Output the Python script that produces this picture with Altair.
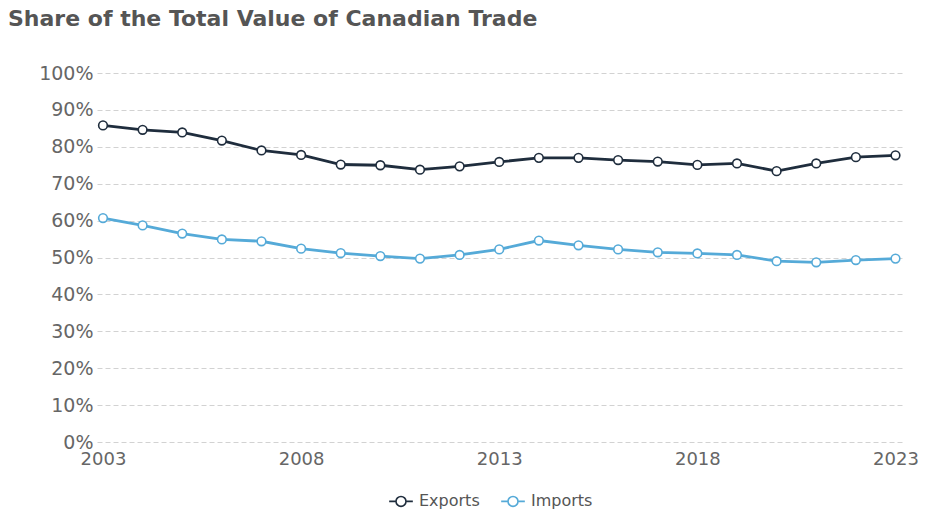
import altair as alt
import pandas as pd

years = list(range(2003, 2024))
exports = [85.8, 84.6, 83.9, 81.7, 79.0, 77.8, 75.2, 75.0, 73.8, 74.7,
           75.9, 77.0, 77.0, 76.4, 76.0, 75.1, 75.5, 73.4, 75.5, 77.2, 77.7]
imports = [60.7, 58.7, 56.5, 54.9, 54.4, 52.4, 51.2, 50.4, 49.7, 50.7,
           52.2, 54.6, 53.3, 52.2, 51.4, 51.1, 50.7, 49.0, 48.7, 49.3, 49.7]
series_names = ["Exports", "Imports"]
series_colors = ["#1f2d3d", "#55aad8"]
x_ticks = [2003, 2008, 2013, 2018, 2023]

rows = []
for i, y in enumerate(years):
    rows.append({"Year": y, "Series": "Exports", "Share": exports[i] / 100})
    rows.append({"Year": y, "Series": "Imports", "Share": imports[i] / 100})
df = pd.DataFrame(rows)

symbol_path = "M-1,0L-0.42,0M0.42,0L1,0M-0.42,0A0.42,0.42 0 1,1 0.42,0A0.42,0.42 0 1,1 -0.42,0"

color = alt.Color(
    "Series:N",
    scale=alt.Scale(domain=series_names, range=series_colors),
    legend=alt.Legend(
        orient="none", legendX=291, legendY=415, title=None, direction="horizontal",
        symbolType=symbol_path, symbolSize=560, symbolStrokeWidth=1.6,
        symbolFillColor="white",
        labelFontSize=16, labelColor="#555555", labelFont="DejaVu Sans",
        labelOffset=5, columnPadding=17, symbolOffset=0, padding=0,
    ),
)

x = alt.X(
    "Year:Q",
    scale=alt.Scale(domain=[2002.849, 2023.24], nice=False, zero=False),
    axis=alt.Axis(values=x_ticks, format="d", title=None, grid=False,
                  domain=False, ticks=False, labelFontSize=18,
                  labelColor="#666666", labelPadding=8, labelFont="DejaVu Sans",
                  labelOverlap=False, labelFlush=False),
)
y = alt.Y(
    "Share:Q",
    scale=alt.Scale(domain=[0, 1], nice=False),
    axis=alt.Axis(values=[i / 10 for i in range(11)], format=".0%", title=None,
                  domain=False, ticks=False, grid=True, gridDash=[5, 3],
                  gridColor="#d2d2d2", gridWidth=1, labelFontSize=19,
                  labelColor="#666666", labelPadding=4, minExtent=89,
                  labelFont="DejaVu Sans"),
)

lines = alt.Chart(df).mark_line(strokeWidth=2.8).encode(x=x, y=y, color=color)
points = alt.Chart(df).mark_point(
    shape="circle", filled=True, fill="white", size=75, strokeWidth=1.6, opacity=1
).encode(x=x, y=y, stroke=alt.Stroke("Series:N",
                                     scale=alt.Scale(domain=series_names, range=series_colors),
                                     legend=None))

chart = (
    alt.layer(lines, points)
    .properties(
        width=808, height=369,
        title=alt.TitleParams(
            "Share of the Total Value of Canadian Trade",
            anchor="start", frame="bounds", fontSize=22, fontWeight="bold",
            color="#555555", font="DejaVu Sans", offset=33,
        ),
        padding={"left": 0, "top": 0, "right": 0, "bottom": 0},
    )
    .configure_view(stroke="transparent", strokeWidth=0)
    .configure_axis(domain=False)
    .configure(background="white",
               style={"cell": {"stroke": "transparent", "strokeWidth": 0}})
)

chart.save("out.html", embed_options={"renderer": "svg", "actions": False})
